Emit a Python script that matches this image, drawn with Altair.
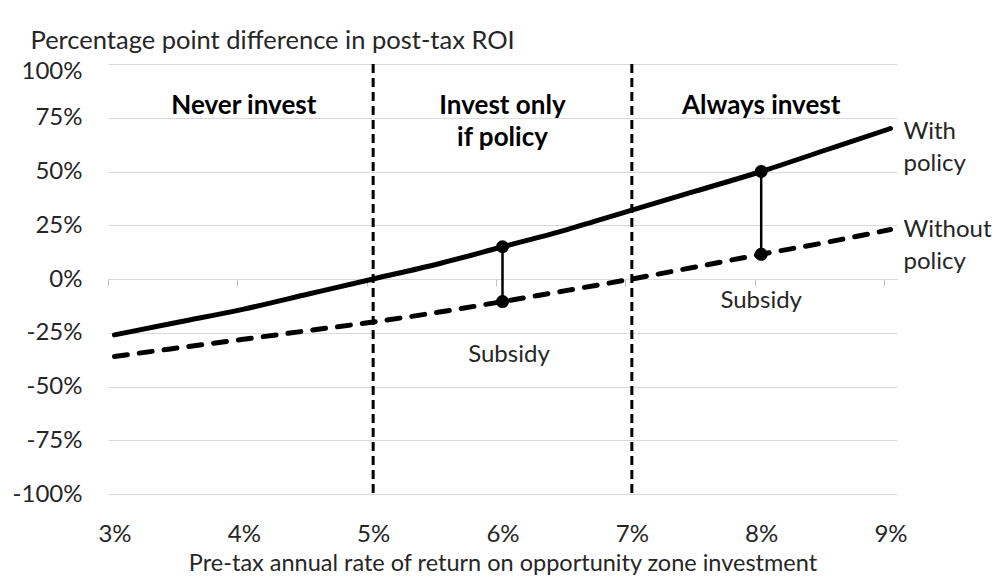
import altair as alt
import pandas as pd

# ---- data ----
x_vals = [3.0, 3.5, 4.0, 4.5, 5.0, 5.5, 6.0, 6.5, 7.0, 7.5, 8.0, 8.5, 9.0]
with_policy = [-26, -20, -14, -7, 0, 7, 15, 23, 32, 41, 50, 60, 70]
without_policy = [-36, -32, -28, -24, -20, -15.5, -10.5, -5.3, 0, 5.7, 11.5, 17, 23]

separators = [5, 7]

subsidy_x = [6, 8]
subsidy_top = [15, 50]
subsidy_bottom = [-10.5, 11.5]

region_labels = ["Never invest", "Invest only\nif policy", "Always invest"]
region_x = [4, 6, 8]
region_y = [80.5, 80.5, 80.5]

series_labels = ["With\npolicy", "Without\npolicy"]
series_label_x = [9.1, 9.1]
series_label_y = [68.6, 22.6]

subsidy_labels = ["Subsidy", "Subsidy"]
subsidy_label_x = [6.05, 8.0]
subsidy_label_y = [-35.3, -10]

x_ticks = [3, 4, 5, 6, 7, 8, 9]
x_minor = [2.95, 3.95, 4.95, 5.95, 6.95, 7.95, 8.95]
y_ticks = [-100, -75, -50, -25, 0, 25, 50, 75, 100]

FONT = "Lato"
TXT = "#262626"
PLOT_H = 430

lines_df = pd.DataFrame({"x": x_vals, "with": with_policy, "without": without_policy})
sep_df = pd.DataFrame({"x": separators})
sub_df = pd.DataFrame({"x": subsidy_x, "top": subsidy_top, "bottom": subsidy_bottom})
pts_df = pd.DataFrame({"x": subsidy_x + subsidy_x, "y": subsidy_top + subsidy_bottom})
reg_df = pd.DataFrame({"x": region_x, "y": region_y, "t": region_labels})
ser_df = pd.DataFrame({"x": series_label_x, "y": series_label_y, "t": series_labels})
subl_df = pd.DataFrame({"x": subsidy_label_x, "y": subsidy_label_y, "t": subsidy_labels})

xs = alt.Scale(domain=[2.95, 9.05], nice=False, zero=False)
ys = alt.Scale(domain=[-100, 100], nice=False)

x_main_axis = alt.Axis(
    values=x_ticks, labelExpr="datum.value + '%'", grid=False, domain=False, ticks=False,
    orient="bottom", labelPadding=28, labelFontSize=24, labelFont=FONT, labelColor=TXT,
    title="Pre-tax annual rate of return on opportunity zone investment",
    titleFont=FONT, titleFontSize=23.5, titleFontWeight="normal", titleColor=TXT,
    titleBaseline="alphabetic", titleY=76,
)
x_zero_axis = alt.Axis(
    values=x_minor, labels=False, grid=False, domain=True, domainColor="#d9d9d9",
    orient="bottom", ticks=True, tickSize=7, tickColor="#bfbfbf", tickWidth=1,
    offset=-PLOT_H / 2, title="",
)
y_axis = alt.Axis(
    values=y_ticks, labelExpr="datum.value + '%'", grid=True, gridColor="#d9d9d9", gridWidth=1,
    domain=False, ticks=False, labelPadding=26, labelFontSize=24, labelFont=FONT, labelColor=TXT,
    labelOffset={"condition": {"test": "datum.value === 100", "value": 7}, "value": 0},
    title="Percentage point difference in post-tax ROI", titleFont=FONT, titleFontSize=25.5,
    titleFontWeight="normal", titleColor=TXT, titleAngle=0, titleAlign="left",
    titleBaseline="alphabetic", titleX=-78, titleY=-16,
)

base_lines = alt.Chart(lines_df)

grid_layer = base_lines.mark_line(opacity=0).encode(
    x=alt.X("x:Q", scale=xs, axis=x_main_axis),
    y=alt.Y("with:Q", scale=ys, axis=y_axis),
)

zero_axis_layer = base_lines.mark_line(opacity=0).encode(
    x=alt.X("x:Q", scale=xs, axis=x_zero_axis),
    y=alt.Y("with:Q", scale=ys),
)

seps = alt.Chart(sep_df).mark_rule(color="black", strokeWidth=3, strokeDash=[9, 5]).encode(
    x=alt.X("x:Q", scale=xs, axis=None)
)

with_line = base_lines.mark_line(color="black", strokeWidth=5, strokeCap="round", interpolate="monotone").encode(
    x=alt.X("x:Q", scale=xs, axis=None),
    y=alt.Y("with:Q", scale=ys),
)
without_line = base_lines.mark_line(color="black", strokeWidth=5, strokeCap="round",
                                    strokeDash=[13, 12], interpolate="monotone").encode(
    x=alt.X("x:Q", scale=xs, axis=None),
    y=alt.Y("without:Q", scale=ys),
)

sub_rules = alt.Chart(sub_df).mark_rule(color="black", strokeWidth=2.5).encode(
    x=alt.X("x:Q", scale=xs, axis=None),
    y=alt.Y("top:Q", scale=ys),
    y2="bottom:Q",
)
sub_pts = alt.Chart(pts_df).mark_circle(color="black", size=170, opacity=1).encode(
    x=alt.X("x:Q", scale=xs, axis=None),
    y=alt.Y("y:Q", scale=ys),
)

reg_text = alt.Chart(reg_df).mark_text(
    font=FONT, fontSize=26, fontWeight="bold", color="black", align="center",
    baseline="middle", lineBreak="\n", lineHeight=32,
).encode(
    x=alt.X("x:Q", scale=xs, axis=None),
    y=alt.Y("y:Q", scale=ys),
    text="t:N",
)
ser_text = alt.Chart(ser_df).mark_text(
    font=FONT, fontSize=24, color=TXT, align="left",
    baseline="middle", lineBreak="\n", lineHeight=32,
).encode(
    x=alt.X("x:Q", scale=xs, axis=None),
    y=alt.Y("y:Q", scale=ys),
    text="t:N",
)
subl_text = alt.Chart(subl_df).mark_text(
    font=FONT, fontSize=24, color=TXT, align="center", baseline="middle",
).encode(
    x=alt.X("x:Q", scale=xs, axis=None),
    y=alt.Y("y:Q", scale=ys),
    text="t:N",
)

chart = alt.layer(
    grid_layer, zero_axis_layer, seps, without_line, with_line, sub_rules, sub_pts,
    reg_text, ser_text, subl_text,
).resolve_axis(x="independent").properties(
    width=789, height=PLOT_H,
    autosize=alt.AutoSizeParams(type="none"),
    padding={"left": 100, "top": 56, "right": 97, "bottom": 81},
    background="white",
).configure_view(stroke=None)

chart.save("out.html", embed_options={"renderer": "svg", "actions": False})
